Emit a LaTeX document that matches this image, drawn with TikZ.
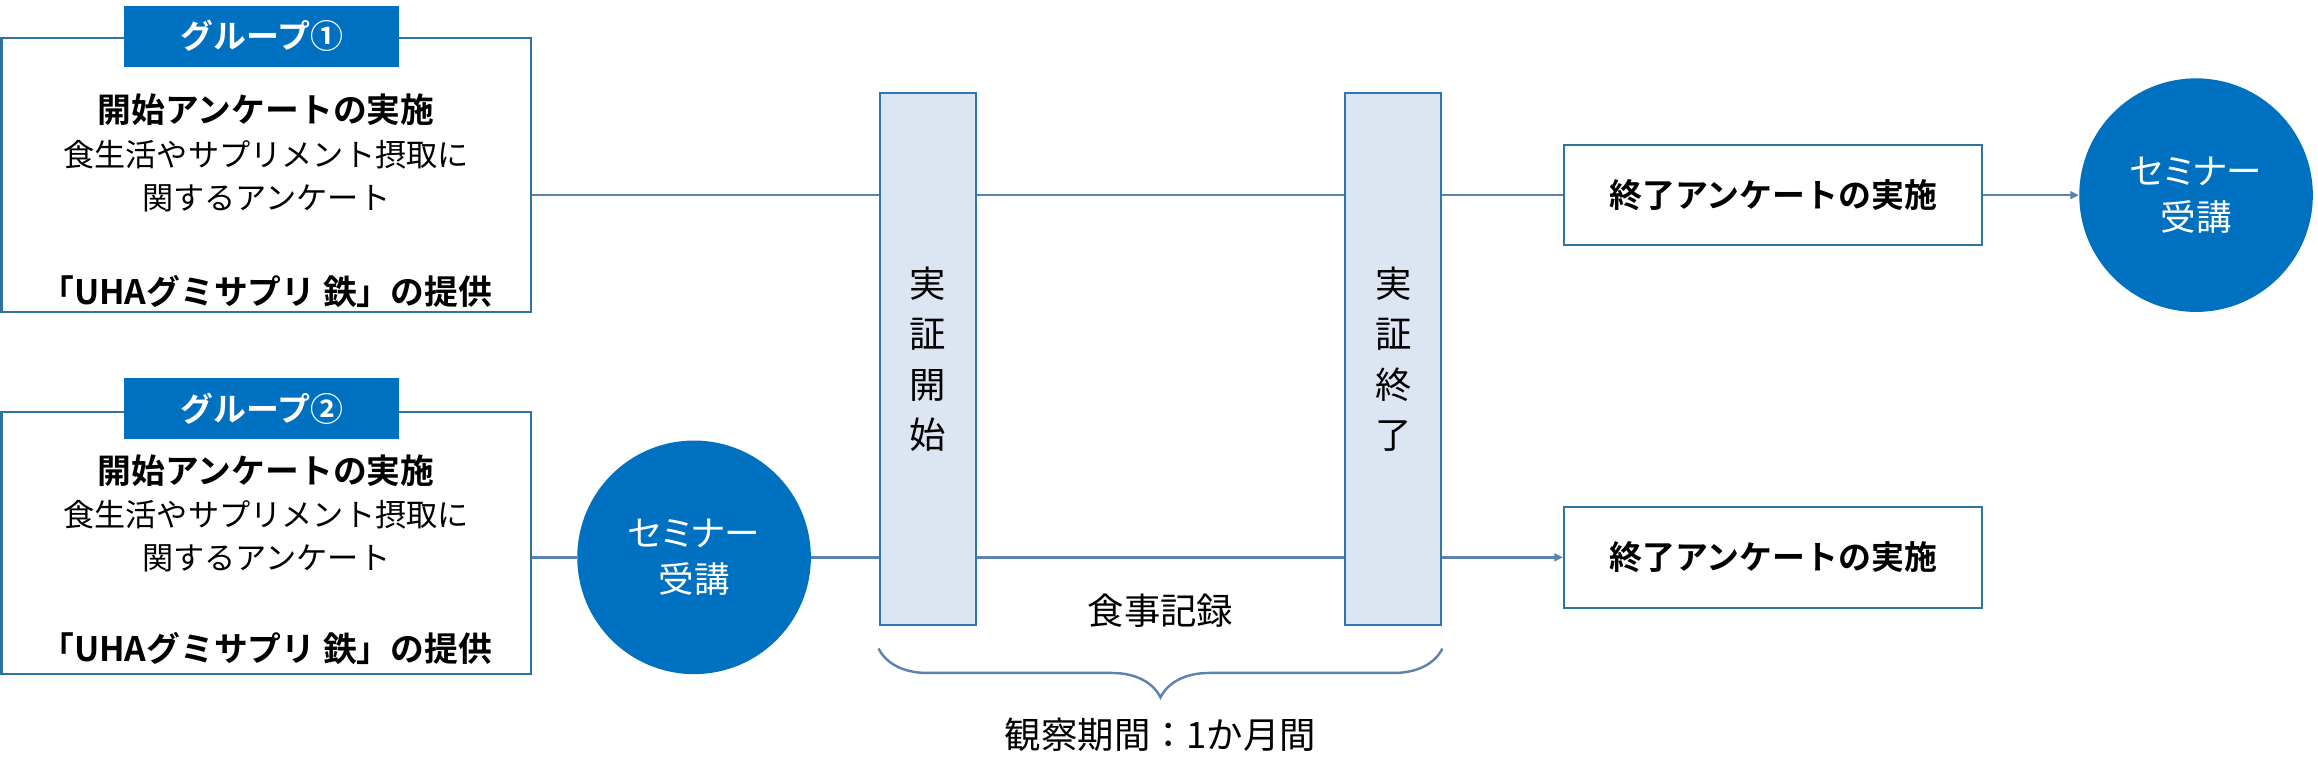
\documentclass[tikz,border=0pt]{standalone}
\usepackage{fontspec}
\setmainfont{Noto Sans CJK JP}[BoldFont={Noto Sans CJK JP Bold}]
\usetikzlibrary{arrows.meta, positioning, calc, decorations.pathreplacing}
\definecolor{hdblue}{HTML}{0070C0}
\definecolor{boxline}{HTML}{2F74A0}
\definecolor{barfill}{HTML}{DCE6F2}
\definecolor{barline}{HTML}{2E75B6}
\definecolor{connblue}{HTML}{5B82B0}

\newcommand{\bighead}[1]{{\fontsize{19.5}{25}\selectfont\bfseries #1}}

\tikzset{
  grpbox/.style={draw=boxline, line width=1.2pt, fill=white, minimum width=10.74cm, inner sep=0pt},
  grphead/.style={fill=hdblue, text=white, minimum width=5.58cm, minimum height=1.23cm, inner sep=0pt,
    font=\fontsize{19}{22}\selectfont\bfseries},
  grptext/.style={align=center, font=\fontsize{18}{25}\selectfont},
  bar/.style={draw=barline, fill=barfill, line width=1.2pt, minimum width=1.95cm, minimum height=10.8cm,
    inner sep=0pt, align=center, font=\fontsize{21}{29}\selectfont},
  endbox/.style={draw=boxline, line width=1.2pt, minimum width=8.49cm, minimum height=2.04cm,
    font=\fontsize{19}{22}\selectfont\bfseries},
  seminar/.style={circle, fill=hdblue, minimum size=4.74cm, inner sep=0pt, text=white, align=center,
    font=\fontsize{20.5}{26.5}\selectfont\addfontfeatures{RawFeature=+palt}},
  conn/.style={connblue, line width=1.4pt},
  note/.style={font=\fontsize{21}{25}\selectfont}
}

\begin{document}
\begin{tikzpicture}[x=0.03cm, y=-0.03cm, >={Triangle[length=5pt, width=4.5pt]}]

% Background
\fill[white] (0,0) rectangle (1568,529);
\useasboundingbox (0,0) rectangle (1568,529);

% Group 1
\node[grpbox, minimum height=5.55cm] (grp1) at (180,118.5) {};
\node[grphead] (head1) at (177,24.5) {グループ①};
\node[grptext] (txt1) at (180,136)
  {\bighead{開始アンケートの実施}\\食生活やサプリメント摂取に\\関するアンケート\\[30pt]\bighead{「UHAグミサプリ 鉄」の提供}};

% Group 2
\node[grpbox, minimum height=5.31cm] (grp2) at (180,367.5) {};
\node[grphead] (head2) at (177,276.5) {グループ②};
\node[grptext] (txt2) at (180,378.5)
  {\bighead{開始アンケートの実施}\\食生活やサプリメント摂取に\\関するアンケート\\[28pt]\bighead{「UHAグミサプリ 鉄」の提供}};

% Seminars
\node[seminar] (sem2) at (469.5,377) {セミナー\\受講};
\node[seminar] (sem1) at (1485.5,132) {セミナー\\受講};

% Start / end bars
\node[bar] (bar1) at (627.5,243) {実\\証\\開\\始};
\node[bar] (bar2) at (942.5,243) {実\\証\\終\\了};

% Final questionnaires
\node[endbox] (end1) at (1199.5,132) {終了アンケートの実施};
\node[endbox] (end2) at (1199.5,377) {終了アンケートの実施};

% Upper flow
\draw[conn] (grp1.east |- end1) -- (bar1.west |- end1);
\draw[conn] (bar1.east |- end1) -- (bar2.west |- end1);
\draw[conn] (bar2.east |- end1) -- (end1);
\draw[conn, ->] (end1) -- (sem1);

% Lower flow
\draw[conn] (grp2.east |- sem2) -- (sem2);
\draw[conn] (sem2) -- (bar1.west |- sem2);
\draw[conn] (bar1.east |- sem2) -- (bar2.west |- sem2);
\draw[conn, ->] (bar2.east |- sem2) -- (end2);

% Period
\node[note] (rec) at (785,413) {食事記録};
\draw[conn, decorate, decoration={brace, mirror, amplitude=0.99cm}]
  ($(bar1.south west)+(0,15)$) -- ($(bar2.south east)+(0,15)$);
\node[note] (period) at (785,497) {観察期間：1か月間};

\end{tikzpicture}
\end{document}
